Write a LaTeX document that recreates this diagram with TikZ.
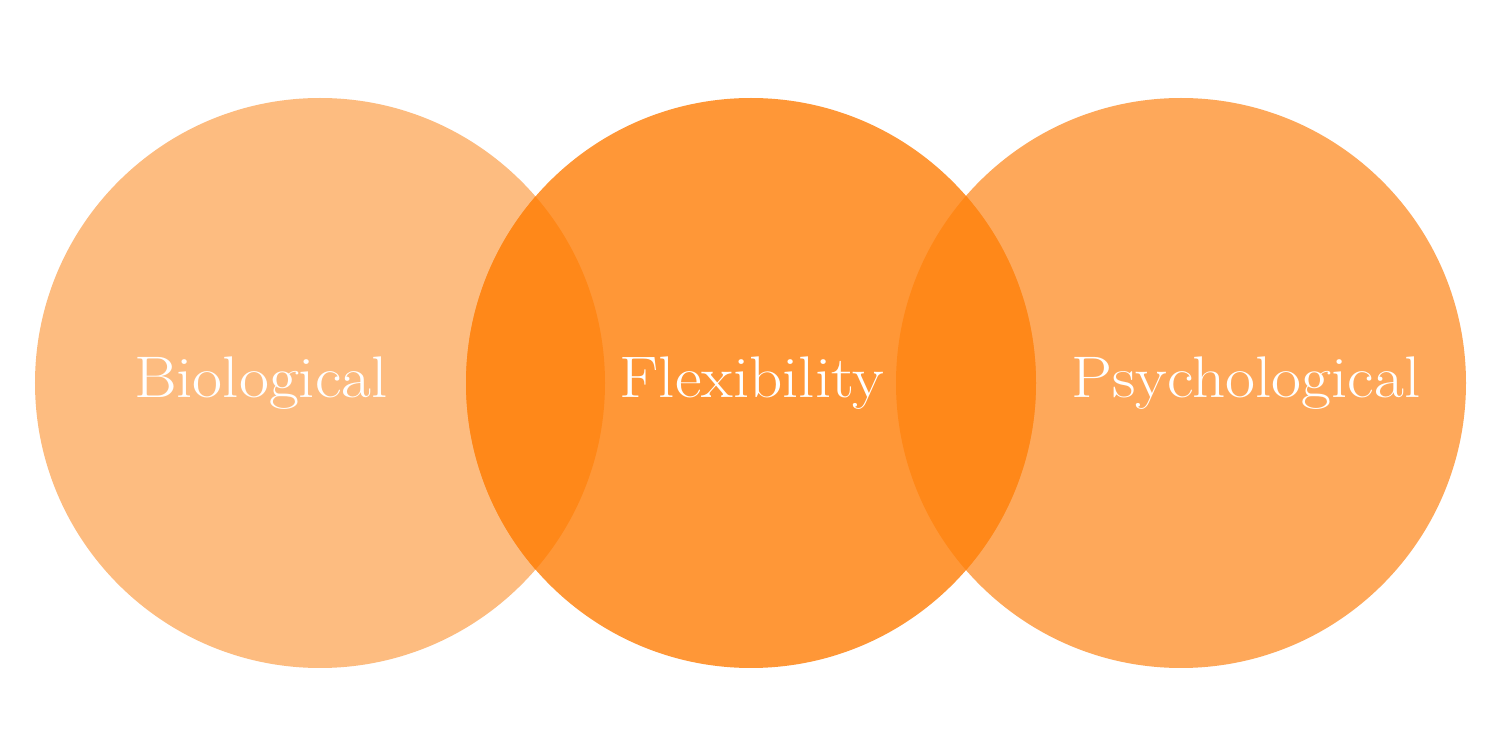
\documentclass[tikz,border=0pt]{standalone}
\usetikzlibrary{positioning}
\definecolor{bioorange}{RGB}{253,188,128}
\definecolor{flexorange}{RGB}{255,151,55}
\definecolor{psyorange}{RGB}{254,168,90}
\definecolor{overorange}{RGB}{255,136,25}

\begin{document}
\begin{tikzpicture}[
  x=1cm,
  y=1cm,
  set circle/.style={
    circle,
    draw=none,
    minimum size=5.70cm,
    inner sep=0pt
  },
  set label/.style={
    anchor=base,
    text=white,
    font=\fontsize{16.7}{20}\selectfont,
    xscale=1.11,
    transform shape,
    inner sep=0pt
  }
]

\def\circr{2.85}

% page frame
\useasboundingbox[fill=white] (0,0) rectangle (15,7.5);

% the three sets
\node[set circle, fill=bioorange] (bio) at (3.20,3.67) {};
\node[set circle, fill=psyorange] (psy) at (11.81,3.67) {};
\node[set circle, fill=flexorange] (flex) at (7.51,3.67) {};

% overlaps
\begin{scope}
  \clip (bio.center) circle[radius=\circr];
  \fill[overorange] (flex.center) circle[radius=\circr];
\end{scope}
\begin{scope}
  \clip (psy.center) circle[radius=\circr];
  \fill[overorange] (flex.center) circle[radius=\circr];
\end{scope}

% labels
\node[set label] (bio-text) at (2.61,3.52) {Biological};
\node[set label] (flex-text) at (7.52,3.52) {Flexibility};
\node[set label] (psy-text) at (12.46,3.52) {Psychological};

\end{tikzpicture}
\end{document}
